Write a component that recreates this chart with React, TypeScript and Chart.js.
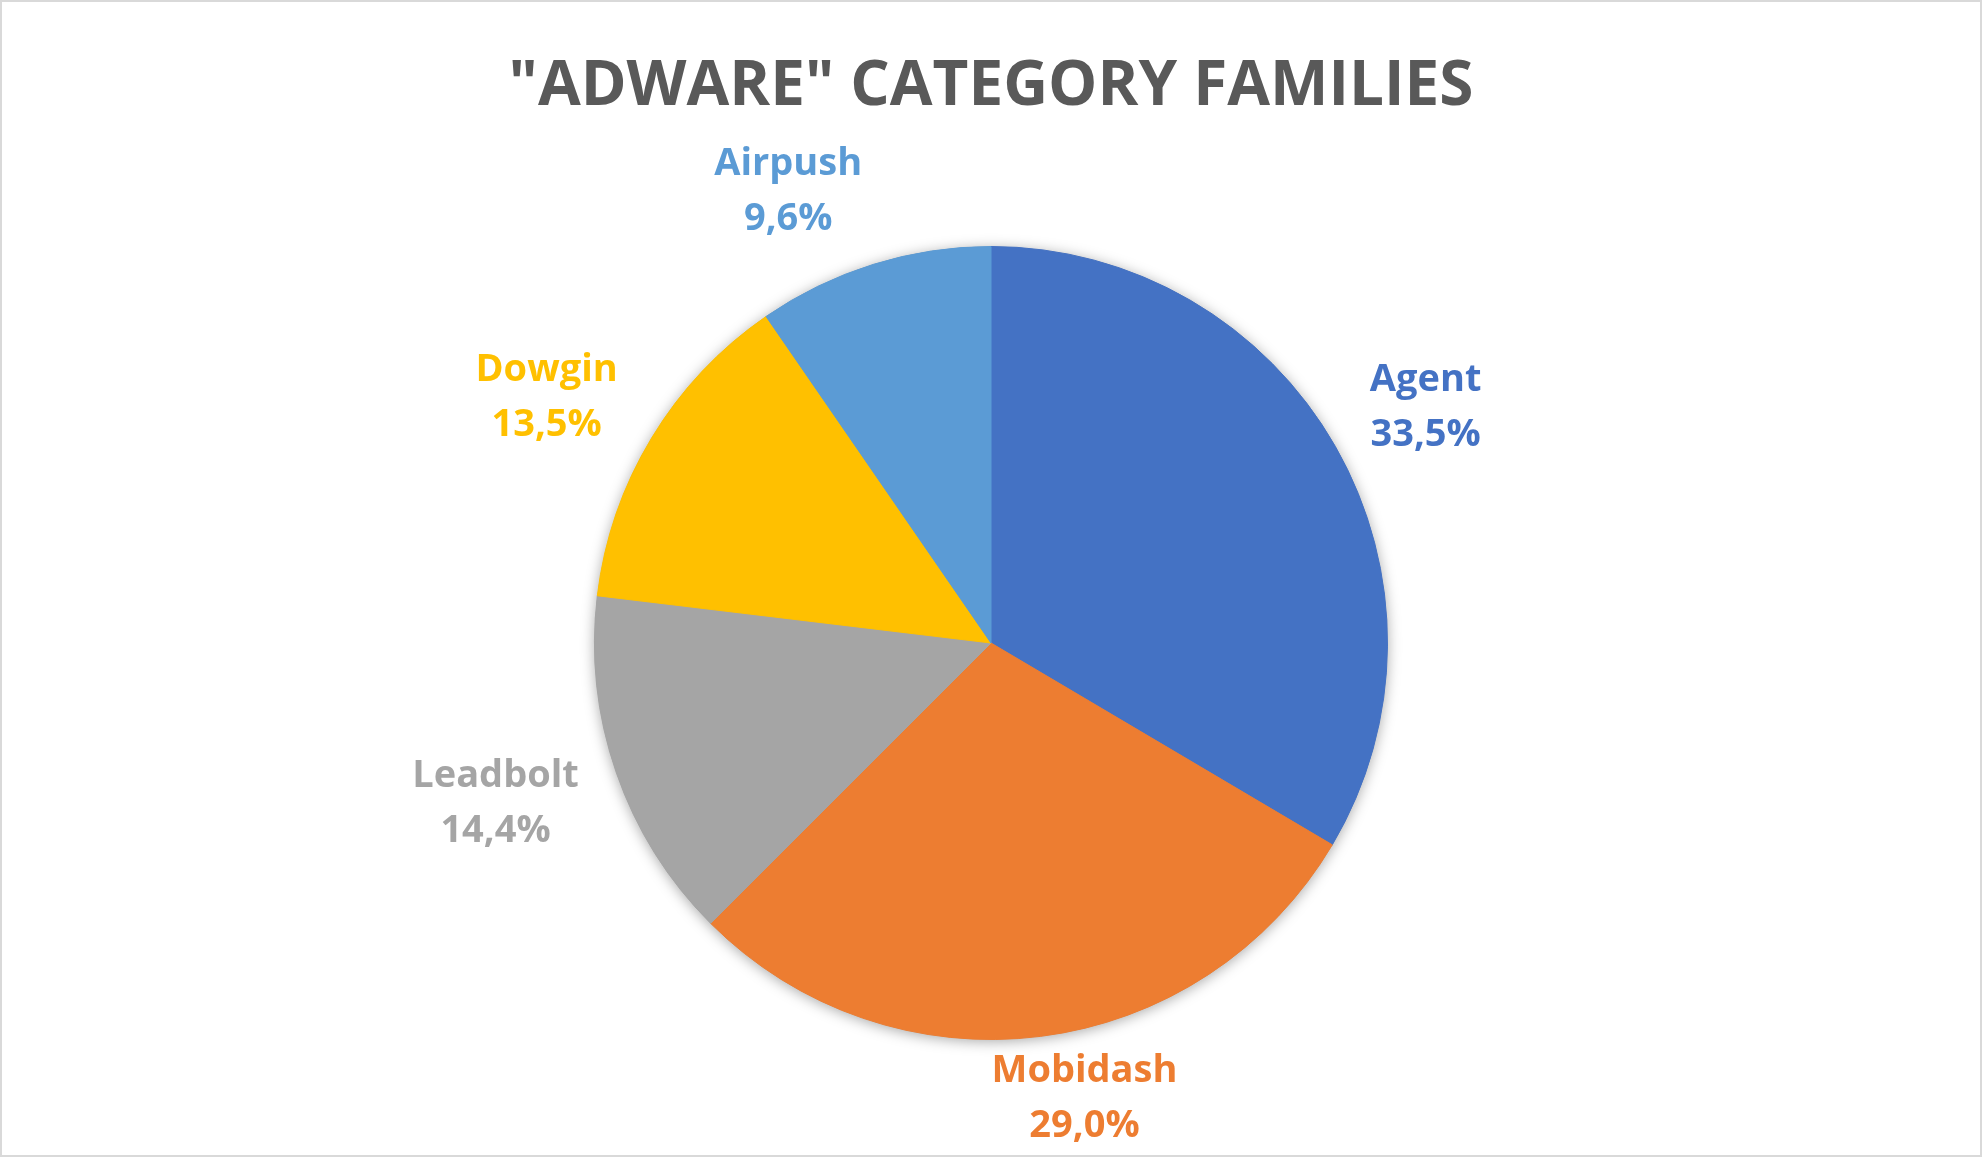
import React, { useEffect, useRef } from "react";
import { Chart, registerables } from "chart.js";

Chart.register(...registerables);

// data
const families = ["Agent", "Mobidash", "Leadbolt", "Dowgin", "Airpush"];
const shares = [33.5, 29.0, 14.4, 13.5, 9.6];
const sliceColors = ["#4472C4", "#ED7D31", "#A5A5A5", "#FFC000", "#5B9BD5"];
const chartTitle = '"ADWARE" CATEGORY FAMILIES';

const WIDTH = 1982;
const HEIGHT = 1157;
const TITLE_BASELINE = 105;
const LABEL_FONT = "bold 38px 'Open Sans'";

const formatShare = (v: number) => v.toFixed(1).replace(".", ",") + "%";

const decorPlugin = {
    id: "decor",
    beforeDraw(chart: any) {
        const { ctx } = chart;
        ctx.save();
        ctx.fillStyle = "#ffffff";
        ctx.fillRect(0, 0, chart.width, chart.height);
        ctx.strokeStyle = "#D9D9D9";
        ctx.lineWidth = 2;
        ctx.strokeRect(1, 1, chart.width - 2, chart.height - 2);

        // title
        ctx.fillStyle = "#595959";
        ctx.font = "bold 62px 'Open Sans'";
        ctx.textAlign = "center";
        ctx.textBaseline = "alphabetic";
        ctx.fillText(chartTitle, chart.width / 2, TITLE_BASELINE);
        ctx.restore();
    },
    beforeDatasetsDraw(chart: any) {
        // soft shadow under the whole pie
        const { ctx } = chart;
        const arc = chart.getDatasetMeta(0).data[0];
        if (!arc) return;
        const { x, y, outerRadius } = arc.getProps(["x", "y", "outerRadius"], true);
        ctx.save();
        ctx.shadowColor = "rgba(0, 0, 0, 0.35)";
        ctx.shadowBlur = 14;
        ctx.shadowOffsetY = 2;
        ctx.beginPath();
        ctx.arc(x, y, outerRadius, 0, Math.PI * 2);
        ctx.fillStyle = "#A5A5A5";
        ctx.fill();
        ctx.restore();
    },
    afterDatasetsDraw(chart: any) {
        // two-line labels outside each slice (name + share)
        const { ctx } = chart;
        const meta = chart.getDatasetMeta(0);
        ctx.save();
        ctx.font = LABEL_FONT;
        ctx.textAlign = "center";
        ctx.textBaseline = "alphabetic";
        meta.data.forEach((arc: any, i: number) => {
            const { x, y, startAngle, endAngle, outerRadius } = arc.getProps(
                ["x", "y", "startAngle", "endAngle", "outerRadius"],
                true
            );
            const line1 = families[i];
            const line2 = formatShare(shares[i]);
            const halfW =
                Math.max(ctx.measureText(line1).width, ctx.measureText(line2).width) / 2;

            const mid = (startAngle + endAngle) / 2;
            const ux = Math.cos(mid);
            const uy = Math.sin(mid);
            // box pushed out sideways by its half width (less so near the vertical)
            let cx = x + ux * outerRadius * 1.1 + Math.sign(ux) * halfW * Math.min(1, Math.abs(ux) / 0.3);
            let cy = y + uy * outerRadius * 1.215;

            const minCy = TITLE_BASELINE + 83;
            const maxCy = chart.height - 62;
            cy = Math.min(Math.max(cy, minCy), maxCy);

            ctx.fillStyle = sliceColors[i];
            ctx.fillText(line1, cx, cy - 13);
            ctx.fillText(line2, cx, cy + 42);
        });
        ctx.restore();
    },
};

const App: React.FC = () => {
    const canvasRef = useRef<HTMLCanvasElement | null>(null);
    const chartInstance = useRef<Chart | null>(null);

    useEffect(() => {
        document.body.style.margin = "0";
        const ctx = canvasRef.current?.getContext("2d");
        if (!ctx) return;

        chartInstance.current = new Chart(ctx, {
            type: "pie",
            data: {
                labels: families,
                datasets: [
                    {
                        data: shares,
                        backgroundColor: sliceColors,
                        borderColor: sliceColors,
                        borderWidth: 1,
                        hoverOffset: 0,
                    },
                ],
            },
            options: {
                responsive: false,
                animation: false,
                layout: {
                    padding: { top: 246, bottom: 117, left: 0, right: 0 },
                },
                plugins: {
                    legend: { display: false },
                    tooltip: { enabled: false },
                    title: { display: false },
                },
            },
            plugins: [decorPlugin],
        });

        return () => {
            if (chartInstance.current) {
                chartInstance.current.destroy();
                chartInstance.current = null;
            }
        };
    }, []);

    return (
        <div style={{ width: WIDTH, height: HEIGHT }}>
            <canvas ref={canvasRef} width={WIDTH} height={HEIGHT}></canvas>
        </div>
    );
};

export default App;
